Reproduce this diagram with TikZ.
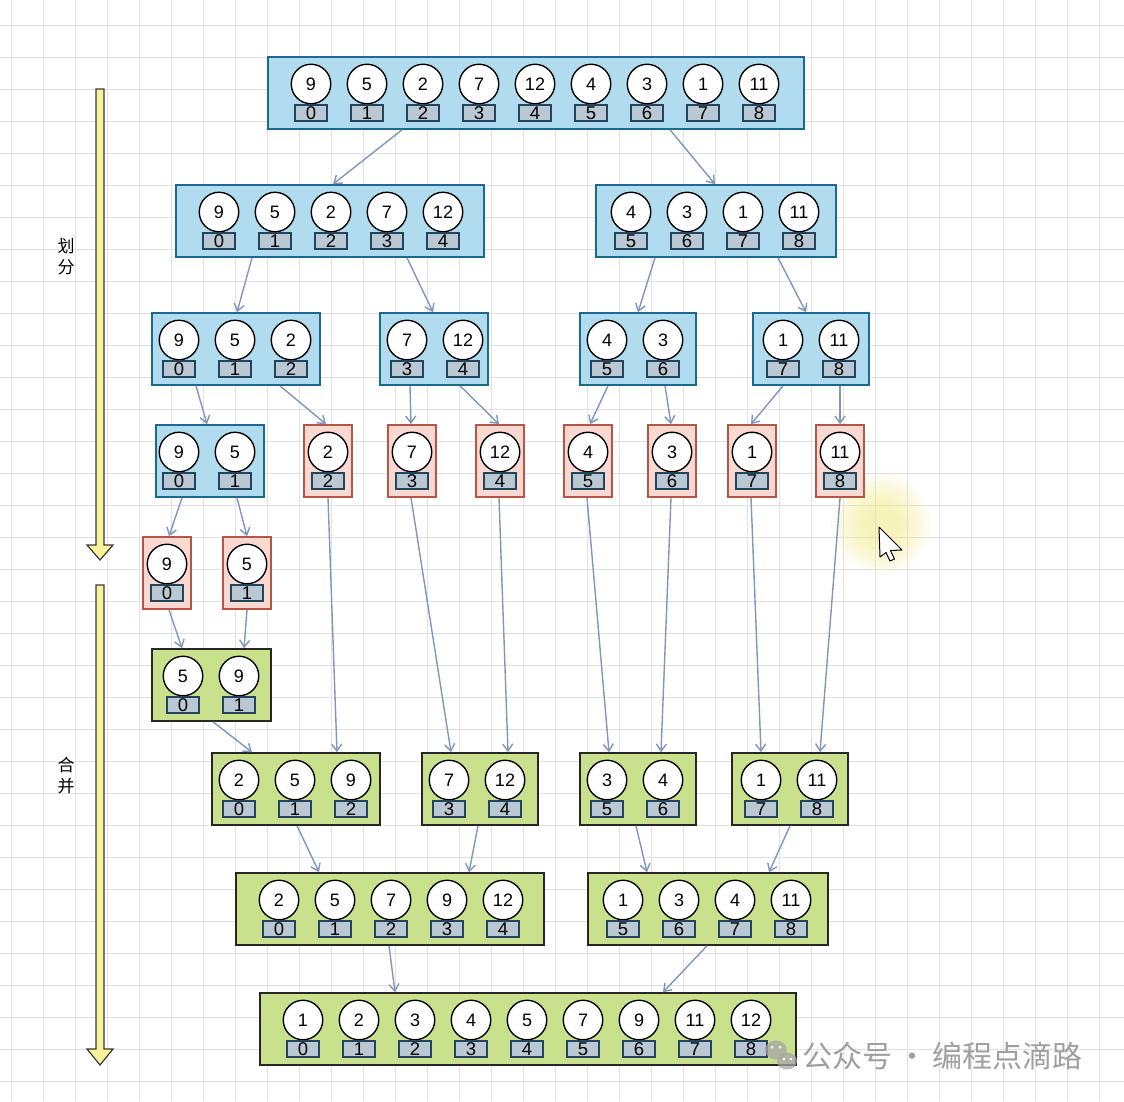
\documentclass[tikz,border=0pt]{standalone}
\usepackage{fontspec}
\setmainfont{Liberation Sans}
\newfontfamily\cjk{Noto Sans CJK SC}
\usetikzlibrary{arrows.meta}
\definecolor{bfill}{HTML}{B1DBEF}
\definecolor{bdraw}{HTML}{1A6A90}
\definecolor{rfill}{HTML}{F9D8D1}
\definecolor{rdraw}{HTML}{B45545}
\definecolor{gfill}{HTML}{C9E08C}
\definecolor{gdraw}{HTML}{36393D}
\definecolor{ifill}{HTML}{BAC8D3}
\definecolor{idraw}{HTML}{23445D}
\definecolor{connc}{HTML}{8097BD}
\definecolor{gridc}{HTML}{E2E2E2}
\definecolor{yfill}{HTML}{FAF29A}
\definecolor{glowc}{HTML}{F3EE80}
\newcommand\mkarr[7]{%
  \node[#2, minimum width=#4-#3, minimum height=72] (#1) at ({(#3+#4)/2},#5+36) {};
  \foreach \v/\i [count=\k from 0] in {#7} {
    \node[circ] (#1c\k) at (#6+56*\k,#5+27) {\v};
    \node[idx] (#1i\k) at (#6+56*\k,#5+56) {\i};
  }}
\newcommand\conn[4]{\draw[conn] (#1.south -| #2,0) -- (#3.north -| #4,0);}
\begin{document}
\begin{tikzpicture}[x=1pt,y=-1pt,
  bluebox/.style={draw=bdraw,fill=bfill,line width=1.6pt,inner sep=0},
  redbox/.style={draw=rdraw,fill=rfill,line width=1.6pt,inner sep=0},
  greenbox/.style={draw=black!85,fill=gfill,line width=1.6pt,inner sep=0},
  circ/.style={circle,draw=black,fill=white,line width=1.4pt,minimum size=39.5pt,inner sep=0,font=\fontsize{18}{18}\selectfont},
  idx/.style={draw=idraw,fill=ifill,line width=1.2pt,minimum width=32pt,minimum height=16pt,inner sep=0,font=\fontsize{18.5}{18}\selectfont},
  conn/.style={draw=connc,line width=1.4pt,-{Straight Barb[length=7pt,width=10pt]}},
  yarrow/.style={fill=yfill,draw=gdraw,line width=1.2pt,line join=miter},
  lab/.style={font=\cjk\fontsize{17}{21}\selectfont,align=center,inner sep=0}
]
\useasboundingbox (0,0) rectangle (1124,1101);
\fill[white] (0,0) rectangle (1124,1101);
\foreach \i in {0,...,34} {\draw[gridc,line width=1pt] (11+32*\i,0) -- (11+32*\i,1101);}
\foreach \j in {0,...,33} {\draw[gridc,line width=1pt] (0,25+32*\j) -- (1124,25+32*\j);}
% cursor glow
\foreach \r in {50,46,...,18} {\fill[glowc,opacity=0.08] (881,524) circle (\r);}
% yellow process arrows
\draw[yarrow] (96,89) -- (104,89) -- (104,545) -- (113,545) -- (100,560) -- (87,545) -- (96,545) -- cycle;
\draw[yarrow] (96,585) -- (104,585) -- (104,1049) -- (113,1049) -- (100,1065) -- (87,1049) -- (96,1049) -- cycle;
\node[lab] (split) at (66,257) {划\\分};
\node[lab] (merge) at (66,776) {合\\并};
% boxes
\mkarr{A}{bluebox}{268}{804}{57}{311}{9/0,5/1,2/2,7/3,12/4,4/5,3/6,1/7,11/8}
\mkarr{B1}{bluebox}{176}{484}{185}{219}{9/0,5/1,2/2,7/3,12/4}
\mkarr{B2}{bluebox}{596}{836}{185}{631}{4/5,3/6,1/7,11/8}
\mkarr{C1}{bluebox}{152}{320}{313}{179}{9/0,5/1,2/2}
\mkarr{C2}{bluebox}{380}{488}{313}{407}{7/3,12/4}
\mkarr{C3}{bluebox}{580}{696}{313}{607}{4/5,3/6}
\mkarr{C4}{bluebox}{753}{869}{313}{783}{1/7,11/8}
\mkarr{D1}{bluebox}{156}{264}{425}{179}{9/0,5/1}
\mkarr{D2}{redbox}{304}{352}{425}{328}{2/2}
\mkarr{D3}{redbox}{388}{436}{425}{412}{7/3}
\mkarr{D4}{redbox}{476}{524}{425}{500}{12/4}
\mkarr{D5}{redbox}{564}{612}{425}{588}{4/5}
\mkarr{D6}{redbox}{648}{696}{425}{672}{3/6}
\mkarr{D7}{redbox}{728}{776}{425}{752}{1/7}
\mkarr{D8}{redbox}{816}{864}{425}{840}{11/8}
\mkarr{E1}{redbox}{143}{191}{537}{167}{9/0}
\mkarr{E2}{redbox}{223}{271}{537}{247}{5/1}
\mkarr{F1}{greenbox}{152}{271}{649}{183}{5/0,9/1}
\mkarr{G1}{greenbox}{212}{380}{753}{239}{2/0,5/1,9/2}
\mkarr{G2}{greenbox}{422}{538}{753}{449}{7/3,12/4}
\mkarr{G3}{greenbox}{580}{696}{753}{607}{3/5,4/6}
\mkarr{G4}{greenbox}{732}{848}{753}{761}{1/7,11/8}
\mkarr{H1}{greenbox}{236}{544}{873}{279}{2/0,5/1,7/2,9/3,12/4}
\mkarr{H2}{greenbox}{588}{828}{873}{623}{1/5,3/6,4/7,11/8}
\mkarr{I}{greenbox}{260}{796}{993}{303}{1/0,2/1,3/2,4/3,5/4,7/5,9/6,11/7,12/8}
% connectors
\conn{A}{402}{B1}{333}
\conn{A}{670}{B2}{715}
\conn{B1}{252}{C1}{237}
\conn{B1}{407}{C2}{433}
\conn{B2}{655}{C3}{638}
\conn{B2}{778}{C4}{806}
\conn{C1}{196}{D1}{207}
\conn{C1}{280}{D2}{326}
\conn{C2}{410}{D3}{411}
\conn{C2}{460}{D4}{499}
\conn{C3}{608}{D5}{590}
\conn{C3}{665}{D6}{671}
\conn{C4}{783}{D7}{751}
\conn{C4}{840}{D8}{840}
\conn{D1}{182}{E1}{169}
\conn{D1}{237}{E2}{247}
\conn{E1}{169}{F1}{182}
\conn{E2}{247}{F1}{244}
\conn{F1}{213}{G1}{252}
\conn{D2}{328}{G1}{337}
\conn{D3}{411}{G2}{451}
\conn{D4}{499}{G2}{508}
\conn{D5}{587}{G3}{609}
\conn{D6}{671}{G3}{661}
\conn{D7}{751}{G4}{761}
\conn{D8}{840}{G4}{820}
\conn{G1}{297}{H1}{319}
\conn{G2}{478}{H1}{469}
\conn{G3}{636}{H2}{647}
\conn{G4}{790}{H2}{769}
\conn{H1}{389}{I}{395}
\conn{H2}{707}{I}{663}
% watermark
\begin{scope}[fill=gray!70,opacity=0.75]
  \fill (776,1050) ellipse (11 and 9.5);
  \fill (787,1061) ellipse (10 and 8.5);
\end{scope}
\fill[white] (772,1047) circle (1.5) (780,1047) circle (1.5) (784,1059) circle (1.3) (791,1059) circle (1.3);
\node[font=\cjk\fontsize{30}{30}\selectfont,text=gray!75,anchor=west,inner sep=0] (wm) at (802,1056) {公众号\,·\,编程点滴路};
% cursor
\draw[fill=white,line width=1pt,line join=round] (879,527) -- (880,557) -- (886,552.5) -- (890,561) -- (894.5,559) -- (890.5,550.5) -- (902,550) -- cycle;
\end{tikzpicture}
\end{document}
